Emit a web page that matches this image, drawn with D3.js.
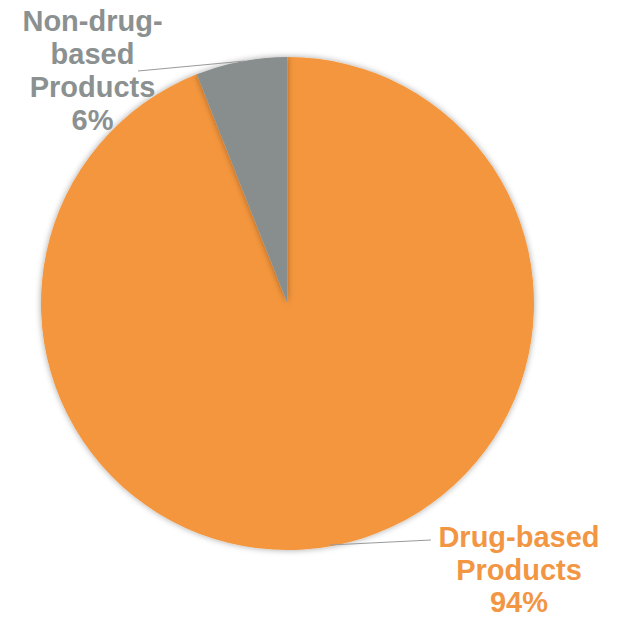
<!DOCTYPE html>
<html><head><meta charset="utf-8">
<script src="https://cdn.jsdelivr.net/npm/d3@7"></script>
<style>body{margin:0;background:#fff}svg{display:block}</style>
</head><body>
<script>
const categories = ["Drug-based Products", "Non-drug-based Products"];
const values = [94, 6];
const colors = ["#F4963E", "#878E8D"];
const labelColors = ["#F29644", "#8B9090"];
const labelLines = [["Drug-based", "Products", "94%"], ["Non-drug-", "based", "Products", "6%"]];

const W = 617, H = 618, cx = 287.5, cy = 303.5, R = 246.5;
const svg = d3.select("body").append("svg").attr("width", W).attr("height", H);
const defs = svg.append("defs");
const f = defs.append("filter").attr("id", "sh").attr("x", "-10%").attr("y", "-10%").attr("width", "120%").attr("height", "120%");
f.append("feDropShadow").attr("dx", 0).attr("dy", 0).attr("stdDeviation", 3).attr("flood-color", "#000").attr("flood-opacity", 0.35);

const pie = d3.pie().sort(null).value(d => d)(values);
const arc = d3.arc().innerRadius(0).outerRadius(R);
const g = svg.append("g").attr("transform", `translate(${cx},${cy})`);
g.selectAll("path").data(pie).join("path")
  .attr("d", arc).attr("fill", (d, i) => colors[i]).attr("filter", "url(#sh)");

// leader lines
const leaders = [
  [[431, 540], [330, 545]],
  [[138, 71], [245, 61]]
];
svg.selectAll("line.lead").data(leaders).join("line")
  .attr("x1", d => d[0][0]).attr("y1", d => d[0][1])
  .attr("x2", d => d[1][0]).attr("y2", d => d[1][1])
  .attr("stroke", "#9a9a9a").attr("stroke-width", 1.2);

const labelPos = [[519, 547, 32.5], [92.5, 31, 33]];
labelLines.forEach((lines, i) => {
  const t = svg.append("text").attr("text-anchor", "middle")
    .attr("font-family", "Liberation Sans, Arial, sans-serif").attr("font-weight", "bold")
    .attr("font-size", 29).attr("fill", labelColors[i]);
  lines.forEach((s, j) => t.append("tspan").attr("x", labelPos[i][0]).attr("y", labelPos[i][1] + j * labelPos[i][2]).text(s));
});
</script>
</body></html>
